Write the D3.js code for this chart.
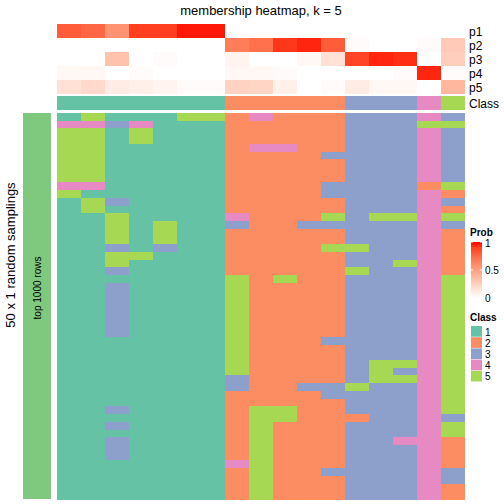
<!DOCTYPE html>
<html><head><meta charset="utf-8">
<script src="https://cdn.jsdelivr.net/npm/d3@7"></script>
<style>body{margin:0;background:#fff}svg{display:block}text{font-family:"Liberation Sans",Arial,sans-serif}</style>
</head><body>
<script>
// ---- data ----
const samples = d3.range(17);
const probRows = ["p1","p2","p3","p4","p5"];
const p1 = [0.80,0.76,0.56,0.90,0.90,0.98,0.98,0,0,0,0,0,0,0,0,0,0];
const p2 = [0,0,0,0,0,0,0,0.66,0.72,0.92,0.96,0.80,0.02,0,0,0.02,0.28];
const p3 = [0,0,0.32,0,0.02,0,0,0.06,0,0,0.04,0.16,0.88,0.96,0.94,0,0.26];
const p4 = [0.04,0.04,0,0.02,0,0,0,0.04,0.04,0.02,0,0,0,0,0.02,0.96,0.02];
const p5 = [0.16,0.20,0.10,0.08,0.06,0.02,0.02,0.24,0.22,0.08,0,0.02,0.10,0.04,0.04,0,0.38];
const classTop = [1,1,1,1,1,1,1,2,2,2,2,2,3,3,3,4,5];
// one string per random sampling (row), one digit per sample (column)
const samplings = [
"15111552422233343",
"44341112222233355",
"55151112222233343",
"55151112222233343",
"55111112442233343",
"55111112222333343",
"55111112222233343",
"55111112222233343",
"55111112222233343",
"44111112222333325",
"51111112222333342",
"15311112222233343",
"15111112222233342",
"11511114222535545",
"11515113223333343",
"11515112222233342",
"11515112222233342",
"11313112222553342",
"11551112222233342",
"11511112222233542",
"11311112222253342",
"11111115252233345",
"11311115222233345",
"11311115222233345",
"11311115222233345",
"11311115222233345",
"11311115222233345",
"11311115222233345",
"11311115222233345",
"11111115222333345",
"11111115222233345",
"11111115222233345",
"11111115222235545",
"11111115222235345",
"11111113222235545",
"11111113223353345",
"11111112222333345",
"11111112222233345",
"11311112552233345",
"11111112552223343",
"11311112522233345",
"11111112522233345",
"11311112522233442",
"11311112522233342",
"11311112522233342",
"11111114522233342",
"11111112522333343",
"11111112522233343",
"11111112522233342",
"11111112522233342"
];
const classLabels = ["1","2","3","4","5"];
const classColors = ["#66C2A5","#FC8D62","#8DA0CB","#E78AC3","#A6D854"];
const legendTicks = [0, 0.5, 1];

// ---- drawing ----
const W = 504, H = 504;
const svg = d3.select("body").append("svg").attr("width",W).attr("height",H);
const probs = [p1,p2,p3,p4,p5];
const x = d3.scaleBand().domain(samples).range([57,465]);
const yTop = d3.scaleBand().domain(probRows).range([24,94]);
const yMain = d3.scaleBand().domain(d3.range(samplings.length)).range([113,499]);
const probColor = d3.scaleLinear().domain([0,1]).range(["#ffffff","#ff0000"]).interpolate(d3.interpolateLab);
const classColor = d3.scaleOrdinal().domain(classLabels).range(classColors);

svg.append("text").attr("x",261).attr("y",15).attr("text-anchor","middle")
  .attr("font-size",13).text("membership heatmap, k = 5");

// probability rows
probRows.forEach((r,i)=>{
  svg.append("g").attr("shape-rendering","crispEdges").selectAll("rect").data(samples).join("rect")
    .attr("x",d=>x(d)).attr("y",yTop(r)).attr("width",x.bandwidth()).attr("height",yTop.bandwidth())
    .attr("fill",d=>probColor(probs[i][d]));
  svg.append("text").attr("x",469).attr("y",yTop(r)+yTop.bandwidth()/2+4.5)
    .attr("font-size",12).text(r);
});
// class row
svg.append("g").attr("shape-rendering","crispEdges").selectAll("rect").data(samples).join("rect")
  .attr("x",d=>x(d)).attr("y",96).attr("width",x.bandwidth()).attr("height",14)
  .attr("fill",d=>classColor(String(classTop[d])));
svg.append("text").attr("x",469).attr("y",107.5).attr("font-size",12).text("Class");

// main heatmap
const cells = [];
samplings.forEach((s,r)=>{ s.split("").forEach((c,j)=>cells.push({r,j,c})); });
svg.append("g").attr("shape-rendering","crispEdges").selectAll("rect").data(cells).join("rect")
  .attr("x",d=>x(d.j)).attr("y",d=>yMain(d.r))
  .attr("width",x.bandwidth()).attr("height",yMain.bandwidth()+0.5)
  .attr("fill",d=>classColor(d.c));

// left annotation
svg.append("rect").attr("x",23).attr("y",113).attr("width",28).attr("height",386).attr("fill","#7FC97F");
svg.append("text").attr("transform","translate(40.5,288) rotate(-90)").attr("text-anchor","middle")
  .attr("font-size",10).text("top 1000 rows");
svg.append("text").attr("transform","translate(14.5,255) rotate(-90)").attr("text-anchor","middle")
  .attr("font-size",13).text("50 x 1 random samplings");

// legend: Prob
const lg = svg.append("g");
lg.append("text").attr("x",470).attr("y",236).attr("font-size",10).attr("font-weight","bold").text("Prob");
const defs = svg.append("defs");
const grad = defs.append("linearGradient").attr("id","pg").attr("x1",0).attr("y1",1).attr("x2",0).attr("y2",0);
d3.range(0,1.01,0.1).forEach(t=>grad.append("stop").attr("offset",t).attr("stop-color",probColor(t)));
const yLeg = d3.scaleLinear().domain([0,1]).range([298,242]);
lg.append("rect").attr("x",471).attr("y",242).attr("width",11).attr("height",56).attr("fill","url(#pg)");
legendTicks.forEach(t=>{
  lg.append("line").attr("x1",471).attr("x2",473).attr("y1",yLeg(t)).attr("y2",yLeg(t)).attr("stroke","#fff");
  lg.append("line").attr("x1",480).attr("x2",482).attr("y1",yLeg(t)).attr("y2",yLeg(t)).attr("stroke","#fff");
  lg.append("text").attr("x",485).attr("y",yLeg(t)+(t===1?5:4)).attr("font-size",10).text(String(t));
});
// legend: Class
lg.append("text").attr("x",470).attr("y",321).attr("font-size",10).attr("font-weight","bold").text("Class");
const ySw = d3.scaleBand().domain(classLabels).range([326,382]);
classLabels.forEach(c=>{
  lg.append("rect").attr("x",471).attr("y",ySw(c)).attr("width",11).attr("height",ySw.bandwidth()-0.5).attr("fill",classColor(c));
  lg.append("text").attr("x",485).attr("y",ySw(c)+ySw.bandwidth()/2+4).attr("font-size",10).text(c);
});
</script>
</body></html>
